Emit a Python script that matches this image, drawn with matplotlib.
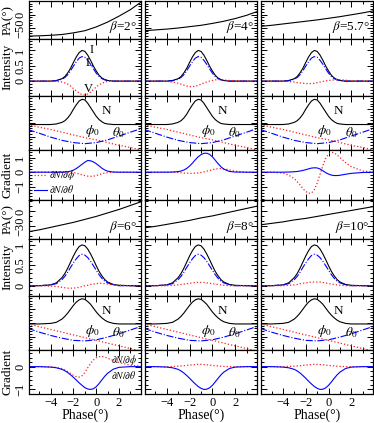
import matplotlib
matplotlib.use("Agg")
import matplotlib.pyplot as plt
from matplotlib.ticker import MultipleLocator, NullFormatter, FixedLocator, FuncFormatter

plt.rcParams['font.family'] = ['Liberation Serif', 'DejaVu Serif']
plt.rcParams['mathtext.fontset'] = 'stix'
plt.rcParams['font.size'] = 9
plt.rcParams['axes.linewidth'] = 0.9

# phase grids (deg)
PHASE_C = [-6, -5, -4, -3, -2, -1, 0, 1, 2, 3, 4]
PHASE_F = [-6, -5, -4, -3.5, -3, -2.75, -2.5, -2.25, -2, -1.75, -1.5, -1.25, -1,
           -0.75, -0.5, -0.25, 0, 0.25, 0.5, 0.75, 1, 1.5, 2, 3, 4]

BETA_TOP = ['2', '4', '5.7']
BETA_BOT = ['6', '8', '10']

# position angle (deg) on PHASE_C
PA_B2 = [-80, -79, -77, -74, -68, -60, -46, -28, -6, 18, 48]
PA_B4 = [-60, -57, -54, -50, -45, -40, -33, -25, -15, -3, 12]
PA_B57 = [-44, -40, -35, -30, -25, -20, -14, -8, -1, 6, 14]
PA_B6 = [-41, -37, -32, -27, -22, -16, -10, -3, 4, 12, 20]
PA_B8 = [-33, -30, -26, -22, -18, -13, -9, -4, 1, 6, 11]
PA_B10 = [-27, -24, -21, -17, -14, -10, -6, -2, 2, 6, 10]

# intensity profiles on PHASE_F
I_TOP = [0, 0, 0, 0.02, 0.08, 0.15, 0.27, 0.42, 0.61, 0.79, 0.93, 1.0, 0.97,
         0.85, 0.68, 0.49, 0.33, 0.19, 0.1, 0.05, 0.02, 0, 0, 0, 0]
L_TOP = [0, 0, 0, 0.01, 0.06, 0.12, 0.21, 0.34, 0.49, 0.63, 0.75, 0.8, 0.78,
         0.68, 0.55, 0.4, 0.26, 0.15, 0.08, 0.04, 0.02, 0, 0, 0, 0]
I_BOT = [0, 0, 0.02, 0.07, 0.2, 0.3, 0.43, 0.58, 0.73, 0.86, 0.96, 1.0, 0.98,
         0.9, 0.78, 0.64, 0.49, 0.35, 0.24, 0.15, 0.09, 0.03, 0.01, 0, 0]
L_BOT = [0, 0, 0.02, 0.05, 0.15, 0.23, 0.33, 0.45, 0.56, 0.66, 0.74, 0.77, 0.75,
         0.69, 0.6, 0.49, 0.38, 0.27, 0.18, 0.11, 0.07, 0.02, 0, 0, 0]
V_B2 = [0, 0, 0, -0.01, -0.03, -0.06, -0.1, -0.16, -0.24, -0.32, -0.39, -0.44, -0.45,
        -0.42, -0.36, -0.27, -0.19, -0.12, -0.07, -0.03, -0.01, 0, 0, 0, 0]
V_B4 = [0, 0, -0.01, -0.03, -0.07, -0.1, -0.13, -0.16, -0.18, -0.18, -0.17, -0.14, -0.1,
        -0.06, -0.03, 0, 0.02, 0.04, 0.05, 0.05, 0.04, 0.02, 0.01, 0, 0]
V_B57 = [0, 0, 0, -0.01, -0.03, -0.05, -0.06, -0.07, -0.08, -0.08, -0.08, -0.07, -0.05,
         -0.03, -0.01, 0.01, 0.02, 0.03, 0.04, 0.05, 0.05, 0.03, 0.01, 0, 0]
V_B6 = [0, 0, -0.01, -0.02, -0.04, -0.05, -0.06, -0.06, -0.06, -0.05, -0.04, -0.02, 0,
        0.01, 0.03, 0.04, 0.05, 0.06, 0.06, 0.05, 0.04, 0.02, 0.01, 0, 0]
V_B8 = [0, 0, 0, 0.01, 0.02, 0.03, 0.04, 0.05, 0.06, 0.07, 0.08, 0.08, 0.08,
        0.08, 0.07, 0.06, 0.05, 0.04, 0.03, 0.02, 0.01, 0, 0, 0, 0]
V_B10 = [0, 0, 0, 0.01, 0.02, 0.03, 0.05, 0.06, 0.07, 0.08, 0.09, 0.09, 0.09,
         0.09, 0.08, 0.07, 0.05, 0.04, 0.03, 0.02, 0.01, 0, 0, 0, 0]

# N with phi0 / theta0 (panel-relative units)
N_TOP = [0.47, 0.47, 0.47, 0.48, 0.51, 0.54, 0.59, 0.66, 0.75, 0.83, 0.9, 0.93, 0.92,
         0.86, 0.78, 0.7, 0.62, 0.56, 0.52, 0.49, 0.48, 0.47, 0.47, 0.47, 0.47]
N_BOT = [0.48, 0.48, 0.49, 0.51, 0.57, 0.62, 0.68, 0.75, 0.82, 0.88, 0.92, 0.94, 0.93,
         0.89, 0.84, 0.77, 0.7, 0.64, 0.59, 0.55, 0.52, 0.49, 0.48, 0.48, 0.48]
PHI0_TOP = [0.47, 0.42, 0.38, 0.33, 0.28, 0.23, 0.19, 0.14, 0.09, 0.05, 0.0]
THETA0_TOP = [0.38, 0.31, 0.24, 0.18, 0.14, 0.12, 0.14, 0.19, 0.26, 0.33, 0.4]
PHI0_BOT = [0.48, 0.43, 0.38, 0.33, 0.28, 0.23, 0.18, 0.13, 0.08, 0.03, -0.02]
THETA0_BOT = [0.4, 0.33, 0.27, 0.22, 0.18, 0.17, 0.19, 0.24, 0.3, 0.37, 0.44]

# gradients on PHASE_F
DPHI_B2 = [0, 0, 0, 0, 0, 0, 0, -0.01, -0.03, -0.07, -0.12, -0.18, -0.23,
           -0.27, -0.28, -0.27, -0.23, -0.17, -0.11, -0.06, -0.03, 0, 0, 0, 0]
DTH_B2 = [0, 0, 0, 0, 0, 0.01, 0.03, 0.07, 0.14, 0.25, 0.39, 0.54, 0.68,
          0.8, 0.78, 0.7, 0.58, 0.43, 0.27, 0.15, 0.07, 0.01, 0, 0, 0]
DPHI_B4 = [0, 0, 0, 0, -0.02, -0.04, -0.06, -0.07, -0.08, -0.08, -0.07, -0.05, -0.02,
           0.02, 0.07, 0.12, 0.17, 0.21, 0.24, 0.25, 0.23, 0.15, 0.07, 0, 0]
DTH_B4 = [0, 0, 0, 0.01, 0.04, 0.08, 0.15, 0.26, 0.42, 0.62, 0.85, 1.05, 1.2,
          1.29, 1.3, 1.22, 1.05, 0.82, 0.58, 0.37, 0.21, 0.05, 0.01, 0, 0]
DPHI_B57 = [0, 0, -0.05, -0.2, -0.45, -0.65, -0.88, -1.12, -1.32, -1.44, -1.43, -1.2, -0.75,
            -0.15, 0.45, 0.95, 1.25, 1.36, 1.32, 1.18, 1.0, 0.65, 0.38, 0.08, 0]
DTH_B57 = [0, 0, 0, 0.01, 0.03, 0.05, 0.08, 0.12, 0.17, 0.23, 0.28, 0.3, 0.29,
           0.22, 0.1, -0.03, -0.13, -0.2, -0.23, -0.23, -0.21, -0.14, -0.08, -0.02, 0]
DPHI_B6 = [0, 0, -0.01, -0.03, -0.09, -0.15, -0.22, -0.3, -0.38, -0.44, -0.46, -0.4, -0.26,
           -0.05, 0.14, 0.29, 0.39, 0.44, 0.45, 0.42, 0.37, 0.27, 0.18, 0.06, 0.02]
DTH_B6 = [0, 0, -0.02, -0.05, -0.12, -0.18, -0.26, -0.36, -0.47, -0.59, -0.71, -0.82, -0.92,
          -0.98, -1.0, -0.97, -0.88, -0.74, -0.58, -0.42, -0.29, -0.11, -0.03, 0, 0]
DPHI_B8 = [0, 0, 0, 0.01, 0.02, 0.03, 0.04, 0.06, 0.07, 0.08, 0.09, 0.1, 0.1,
           0.09, 0.08, 0.07, 0.05, 0.04, 0.03, 0.02, 0.01, 0, 0, 0, 0]
DTH_B8 = [0, 0, -0.02, -0.05, -0.12, -0.19, -0.28, -0.39, -0.51, -0.64, -0.76, -0.87, -0.95,
          -1.0, -0.99, -0.93, -0.82, -0.67, -0.51, -0.36, -0.24, -0.08, -0.02, 0, 0]
DPHI_B10 = [0, 0, 0, 0.01, 0.02, 0.03, 0.04, 0.06, 0.07, 0.08, 0.09, 0.1, 0.1,
            0.09, 0.08, 0.07, 0.05, 0.04, 0.03, 0.02, 0.01, 0, 0, 0, 0]
DTH_B10 = [0, 0, -0.02, -0.05, -0.12, -0.19, -0.28, -0.39, -0.51, -0.64, -0.76, -0.87, -0.95,
           -1.0, -0.99, -0.93, -0.82, -0.67, -0.51, -0.36, -0.24, -0.08, -0.02, 0, 0]

RED = '#ff2020'
BLUE = '#0000ff'

groups = [
    dict(betas=BETA_TOP, pa=[PA_B2, PA_B4, PA_B57], I=I_TOP, L=L_TOP,
         V=[V_B2, V_B4, V_B57], N=N_TOP, phi0=PHI0_TOP, theta0=THETA0_TOP,
         dphi=[DPHI_B2, DPHI_B4, DPHI_B57], dth=[DTH_B2, DTH_B4, DTH_B57],
         pa_lim=(-90, 50), pa_ticks=[-50, 0], i_lim=(-0.47, 1.38), g_lim=(-1.9, 1.5),
         g_ticks=[-1, 0, 1]),
    dict(betas=BETA_BOT, pa=[PA_B6, PA_B8, PA_B10], I=I_BOT, L=L_BOT,
         V=[V_B6, V_B8, V_B10], N=N_BOT, phi0=PHI0_BOT, theta0=THETA0_BOT,
         dphi=[DPHI_B6, DPHI_B8, DPHI_B10], dth=[DTH_B6, DTH_B8, DTH_B10],
         pa_lim=(-55, 23), pa_ticks=[-30, 0], i_lim=(-0.24, 1.15), g_lim=(-1.2, 0.72),
         g_ticks=[-1, 0]),
]

fig = plt.figure(figsize=(3.74, 4.23), dpi=100)
gs = fig.add_gridspec(8, 3, height_ratios=[38, 57, 55, 50, 39, 57, 55, 44],
                      left=29 / 374, right=373 / 374, top=1 - 1 / 423,
                      bottom=1 - 394 / 423, wspace=0.04, hspace=0)

num_fmt = FuncFormatter(lambda v, p: ('%g' % v).replace('-', '\u2212'))


def style(ax, ymaj, ymin, col, show_x, label_ticks=None):
    ax.set_xlim(-5.9, 3.9)
    ax.xaxis.set_major_locator(MultipleLocator(2))
    ax.xaxis.set_minor_locator(MultipleLocator(1))
    ax.yaxis.set_major_locator(MultipleLocator(ymaj))
    ax.yaxis.set_minor_locator(MultipleLocator(ymin))
    ax.tick_params(which='both', direction='in', top=True, right=True,
                   labelsize=9, width=0.7, pad=2)
    ax.tick_params(which='major', length=4)
    ax.tick_params(which='minor', length=2)
    if show_x:
        ax.xaxis.set_major_formatter(num_fmt)
    else:
        ax.xaxis.set_major_formatter(NullFormatter())
    if col > 0:
        ax.yaxis.set_major_formatter(NullFormatter())
    else:
        if label_ticks is not None:
            ax.yaxis.set_major_locator(FixedLocator(label_ticks))
        ax.yaxis.set_major_formatter(num_fmt)
        for lbl in ax.get_yticklabels():
            lbl.set_rotation(90)
            lbl.set_va('center')


def ylab(ax, text):
    ax.set_ylabel(text, fontsize=9.5)
    ax.yaxis.label.set_va('center')
    ax.yaxis.set_label_coords(-0.19, 0.5)


for g, grp in enumerate(groups):
    r0 = 4 * g
    for c in range(3):
        last = (g == 1)
        # PA panel
        ax = fig.add_subplot(gs[r0, c])
        ax.plot(PHASE_C, grp['pa'][c], color='black', lw=0.8)
        ax.set_ylim(*grp['pa_lim'])
        style(ax, grp['pa_ticks'][1] - grp['pa_ticks'][0], 10, c, False, grp['pa_ticks'])
        ax.text(0.97, 0.1, r'$\beta$=' + grp['betas'][c] + '°', transform=ax.transAxes,
                ha='right', va='bottom', fontsize=9.5)
        if c == 0:
            ylab(ax, 'PA(°)')

        # intensity panel
        ax = fig.add_subplot(gs[r0 + 1, c])
        ax.plot(PHASE_F, grp['I'], color='black', lw=0.8)
        ax.plot(PHASE_F, grp['L'], color=BLUE, lw=0.8, ls='-.')
        ax.plot(PHASE_F, grp['V'][c], color=RED, lw=0.9, ls=':')
        ax.set_ylim(*grp['i_lim'])
        style(ax, 0.5, 0.1, c, False, [0, 0.5, 1])
        if c == 0:
            ylab(ax, 'Intensity')
            if g == 0:
                ax.text(-0.6, 1.0, 'I', fontsize=9, ha='left', va='center')
                ax.text(-0.9, 0.58, 'L', fontsize=9, ha='left', va='center')
                ax.text(-1.05, -0.26, 'V', fontsize=9, ha='left', va='center')

        # N panel
        ax = fig.add_subplot(gs[r0 + 2, c])
        ax.plot(PHASE_F, grp['N'], color='black', lw=0.8)
        ax.plot(PHASE_C, grp['phi0'], color=RED, lw=0.9, ls=':')
        ax.plot(PHASE_C, grp['theta0'], color=BLUE, lw=0.8, ls='-.')
        ax.set_ylim(0, 1)
        style(ax, 0.25, 0.05, c, False)
        ax.yaxis.set_major_formatter(NullFormatter())
        ax.text(0.45, 0.71, 'N', fontsize=9.5, ha='left', va='center')
        ax.text(-1.0, 0.35, r'$\phi_0$', fontsize=9.5, ha='left', va='center')
        ax.text(1.4, 0.33, r'$\theta_0$', fontsize=9.5, ha='left', va='center')

        # gradient panel
        ax = fig.add_subplot(gs[r0 + 3, c])
        ax.plot(PHASE_F, grp['dphi'][c], color=RED, lw=0.9, ls=':', label=r'$\partial N/\partial\phi$')
        ax.plot(PHASE_F, grp['dth'][c], color=BLUE, lw=0.8, label=r'$\partial N/\partial\theta$')
        ax.set_ylim(*grp['g_lim'])
        style(ax, 1, 0.2, c, last, grp['g_ticks'])
        if c == 0:
            ylab(ax, 'Gradient')
            if g == 0:
                ax.legend(loc='lower left', frameon=False, fontsize=7, handlelength=1.3,
                          handletextpad=0.3, labelspacing=0.1, borderaxespad=0.1)
            else:
                ax.text(1.3, 0.27, r'$\partial N/\partial\phi$', fontsize=7, va='center')
                ax.text(1.3, -0.36, r'$\partial N/\partial\theta$', fontsize=7, va='center')
        if last:
            ax.set_xlabel('Phase(°)', fontsize=10, labelpad=0)

fig.savefig('out.png', dpi=100)
